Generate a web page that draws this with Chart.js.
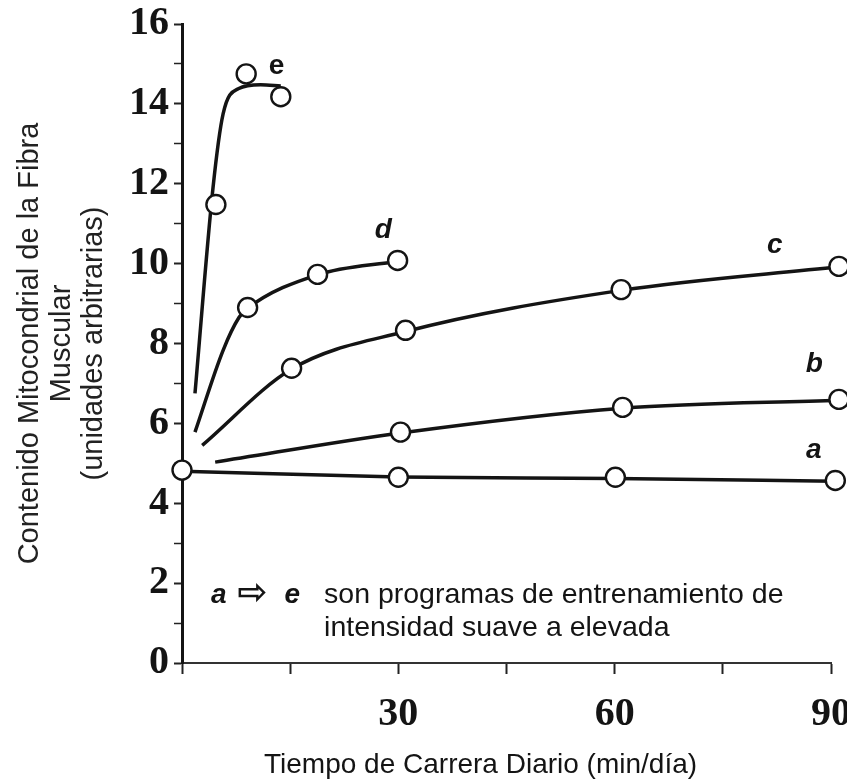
<!DOCTYPE html>
<html>
<head>
<meta charset="utf-8">
<script src="https://cdn.jsdelivr.net/npm/chart.js@4.4.1/dist/chart.umd.min.js"></script>
<style>
  body { margin: 0; background: #fff; }
</style>
</head>
<body>
<canvas id="mito" width="847" height="781"></canvas>
<script>
// measured points, [min/day, arbitrary units]
const aPoints = [[0, 4.83], [30.0, 4.65], [60.1, 4.65], [90.6, 4.57]];
const bPoints = [[30.3, 5.78], [61.1, 6.4], [91.1, 6.6]];
const cPoints = [[15.2, 7.38], [31.0, 8.33], [60.9, 9.35], [91.1, 9.93]];
const dPoints = [[9.1, 8.9], [18.8, 9.73], [29.9, 10.08]];
const ePoints = [[4.7, 11.48], [8.9, 14.75], [13.7, 14.18]];

// fitted curves drawn through / near the points
const aCurve = [[0, 4.8], [30, 4.66], [60, 4.62], [90.6, 4.55]];
const bCurve = [[4.6, 5.03], [30.3, 5.76], [61.1, 6.38], [91.1, 6.58]];
const cCurve = [[2.8, 5.45], [15.2, 7.36], [31.0, 8.3], [60.9, 9.33], [91.1, 9.92]];
const dCurve = [[1.8, 5.78], [5.7, 7.83], [7.9, 8.65], [9.1, 8.88], [18.8, 9.72], [29.9, 10.06]];
const eCurve = [[1.8, 6.75], [4.3, 11.9], [5.7, 13.75], [7.8, 14.38], [10.9, 14.48], [13.7, 14.45]];

const xLabelled = [30, 60, 90];
const yLabelled = [0, 2, 4, 6, 8, 10, 12, 14, 16];

const curveNames = ['a', 'b', 'c', 'd', 'e'];
const curveNameX = [87.6, 87.7, 82.2, 27.9, 13.1];
const curveNameY = [5.33, 7.48, 10.45, 10.83, 14.95];

const yTitle = ['Contenido Mitocondrial de la Fibra', 'Muscular', '(unidades arbitrarias)'];
const xTitle = 'Tiempo de Carrera Diario (min/día)';
const noteLine1 = 'son programas de entrenamiento de';
const noteLine2 = 'intensidad suave a elevada';

const ink = '#141414';
const sans = '"Liberation Sans", Arial, "DejaVu Sans", sans-serif';
const serif = '"Liberation Serif", "Times New Roman", serif';

const toXY = arr => arr.map(p => ({ x: p[0], y: p[1] }));

function curveSet(arr) {
  return {
    data: toXY(arr),
    borderColor: ink,
    borderWidth: 3.5,
    pointRadius: 0,
    cubicInterpolationMode: 'monotone',
    fill: false,
    clip: false,
    order: 2
  };
}
function pointSet(arr) {
  return {
    data: toXY(arr),
    showLine: false,
    pointRadius: 9.5,
    pointBackgroundColor: '#fff',
    pointBorderColor: ink,
    pointBorderWidth: 2.4,
    clip: false,
    order: 1
  };
}

const texts = {
  id: 'texts',
  afterDraw(chart) {
    const { ctx, scales: { x, y }, chartArea } = chart;
    ctx.save();
    ctx.fillStyle = ink;
    ctx.textAlign = 'center';
    ctx.textBaseline = 'middle';
    curveNames.forEach((n, i) => {
      ctx.font = (n === 'e' ? 'bold ' : 'italic bold ') + '28px ' + sans;
      ctx.fillText(n, x.getPixelForValue(curveNameX[i]), y.getPixelForValue(curveNameY[i]));
    });

    // note in the lower part of the plot
    const b1 = y.getPixelForValue(1.5), b2 = y.getPixelForValue(0.675);
    ctx.textBaseline = 'alphabetic';
    ctx.font = 'italic bold 28px ' + sans;
    ctx.fillText('a', x.getPixelForValue(5.1), b1);
    ctx.fillText('e', x.getPixelForValue(15.3), b1);
    ctx.font = 'bold 36px "DejaVu Sans", sans-serif';
    ctx.fillText('\u21E8', x.getPixelForValue(9.8), b1 + 1);
    ctx.textAlign = 'left';
    ctx.font = '28.5px ' + sans;
    const nx = x.getPixelForValue(19.7);
    ctx.fillText(noteLine1, nx, b1);
    ctx.fillText(noteLine2, nx, b2);

    // x axis title
    ctx.textAlign = 'center';
    ctx.textBaseline = 'middle';
    ctx.font = '28px ' + sans;
    ctx.fillText(xTitle, x.getPixelForValue(41.4), chartArea.bottom + 102);
    ctx.restore();
  }
};

new Chart(document.getElementById('mito'), {
  type: 'line',
  data: {
    datasets: [
      curveSet(aCurve), curveSet(bCurve), curveSet(cCurve), curveSet(dCurve), curveSet(eCurve),
      pointSet(aPoints), pointSet(bPoints), pointSet(cPoints), pointSet(dPoints), pointSet(ePoints)
    ]
  },
  options: {
    responsive: false,
    animation: false,
    layout: { padding: { top: 24, right: 16, left: 0, bottom: 0 } },
    plugins: { legend: { display: false }, tooltip: { enabled: false } },
    scales: {
      x: {
        type: 'linear',
        min: 0,
        max: 90,
        border: { display: true, color: '#333', width: 2 },
        grid: { drawOnChartArea: false, drawTicks: true, tickLength: 11, tickColor: '#222', tickWidth: 2 },
        ticks: {
          stepSize: 15,
          padding: 17,
          color: ink,
          font: { family: serif, size: 40, weight: 'bold' },
          maxRotation: 0,
          autoSkip: false,
          callback: v => xLabelled.includes(v) ? String(v) : ''
        },
        afterFit(s) { s.height = 118; s.paddingLeft = 0; s.paddingRight = 0; }
      },
      y: {
        type: 'linear',
        min: 0,
        max: 16,
        border: { display: true, color: ink, width: 3 },
        grid: {
          drawOnChartArea: false, drawTicks: true, tickLength: 8, tickColor: '#222',
          tickWidth: c => (c.tick && c.tick.value % 2 === 0) ? 2 : 1.5
        },
        ticks: {
          stepSize: 1,
          padding: 5,
          color: ink,
          font: { family: serif, size: 40, weight: 'bold' },
          autoSkip: false,
          callback: v => yLabelled.includes(v) ? String(v) : ''
        },
        title: {
          display: true,
          text: yTitle,
          color: '#222',
          font: { family: sans, size: 29, lineHeight: 1.1 },
          padding: { top: 14, bottom: 0 }
        },
        afterFit(s) { s.width = 182; s.paddingTop = 0; s.paddingBottom = 0; }
      }
    }
  },
  plugins: [texts]
});
</script>
</body>
</html>
